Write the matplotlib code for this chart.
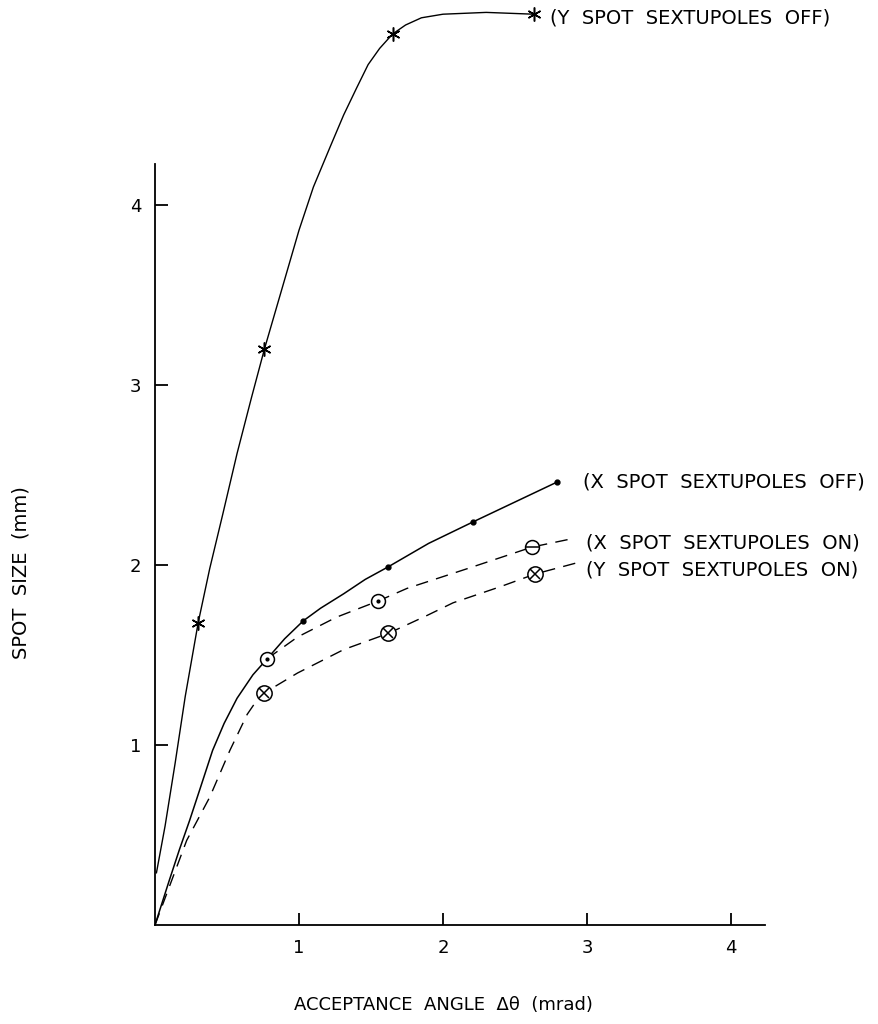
import matplotlib
matplotlib.use('Agg')
import matplotlib.pyplot as plt

# courbes (mrad, mm)
y_off_x = [0.01, 0.07, 0.14, 0.21, 0.30, 0.38, 0.47, 0.57, 0.67, 0.76, 0.88, 1.00, 1.10, 1.22, 1.31, 1.40, 1.48, 1.56, 1.65, 1.74, 1.85, 2.00, 2.30, 2.63]
y_off_y = [0.29, 0.55, 0.90, 1.27, 1.68, 1.98, 2.28, 2.62, 2.93, 3.20, 3.53, 3.86, 4.10, 4.33, 4.50, 4.65, 4.78, 4.87, 4.95, 5.00, 5.04, 5.06, 5.07, 5.06]

x_off_x = [0.0, 0.10, 0.17, 0.24, 0.31, 0.40, 0.48, 0.57, 0.68, 0.78, 0.90, 1.03, 1.15, 1.31, 1.46, 1.62, 1.90, 2.21, 2.50, 2.79]
x_off_y = [0.0, 0.25, 0.42, 0.58, 0.75, 0.97, 1.12, 1.26, 1.39, 1.48, 1.59, 1.69, 1.76, 1.84, 1.92, 1.99, 2.12, 2.24, 2.35, 2.46]

x_on_x = [0.78, 0.99, 1.26, 1.55, 1.75, 2.17, 2.62, 2.92]
x_on_y = [1.48, 1.60, 1.71, 1.80, 1.87, 1.98, 2.10, 2.15]

y_on_x = [0.0, 0.22, 0.38, 0.52, 0.64, 0.70, 0.76, 0.99, 1.31, 1.62, 1.89, 2.07, 2.40, 2.64, 2.92]
y_on_y = [0.0, 0.47, 0.71, 0.97, 1.17, 1.24, 1.29, 1.40, 1.53, 1.62, 1.72, 1.79, 1.88, 1.95, 2.01]

# points marques
y_off_pts_x = [0.30, 0.76, 1.65, 2.63]
y_off_pts_y = [1.68, 3.20, 4.95, 5.06]
x_off_pts_x = [1.03, 1.62, 2.21, 2.79]
x_off_pts_y = [1.69, 1.99, 2.24, 2.46]
x_on_pts_x = [0.78, 1.55]
x_on_pts_y = [1.48, 1.80]
x_on_last = (2.62, 2.10)
y_on_pts_x = [0.76, 1.62, 2.64]
y_on_pts_y = [1.29, 1.62, 1.95]

ticks = [1, 2, 3, 4]

fig = plt.figure(figsize=(8.79, 10.24), dpi=100)
ax = fig.add_axes([155/879, 99/1024, 610/879, 918/1024])
ax.set_xlim(0, 4.236)
ax.set_ylim(0, 5.1)

k = 'black'
ax.plot(y_off_x, y_off_y, color=k, lw=1.0)
ax.plot(x_off_x, x_off_y, color=k, lw=1.1)
ax.plot(x_on_x, x_on_y, color=k, lw=1.0, dashes=(9, 6))
ax.plot(y_on_x, y_on_y, color=k, lw=1.0, dashes=(9, 6))

ax.plot(y_off_pts_x, y_off_pts_y, ls='none', marker=(6, 2, 0), ms=10, mec=k, mew=1.1)
ax.plot(x_off_pts_x, x_off_pts_y, ls='none', marker='o', ms=3.5, color=k)
ax.plot(x_on_pts_x, x_on_pts_y, ls='none', marker='o', ms=10, mfc='white', mec=k, mew=1.1)
ax.plot(x_on_pts_x, x_on_pts_y, ls='none', marker='o', ms=2, color=k)
ax.plot([x_on_last[0]], [x_on_last[1]], ls='none', marker='o', ms=10, mfc='white', mec=k, mew=1.1)
ax.plot([x_on_last[0]], [x_on_last[1]], ls='none', marker='_', ms=10, mec=k, mew=1.1)
ax.plot(y_on_pts_x, y_on_pts_y, ls='none', marker='o', ms=11, mfc='white', mec=k, mew=1.1)
ax.plot(y_on_pts_x, y_on_pts_y, ls='none', marker='x', ms=7, mec=k, mew=1.1)

fs = 14
ax.text(2.74, 5.04, '(Y  SPOT  SEXTUPOLES  OFF)', fontsize=fs, va='center')
ax.text(2.97, 2.46, '(X  SPOT  SEXTUPOLES  OFF)', fontsize=fs, va='center')
ax.text(2.99, 2.12, '(X  SPOT  SEXTUPOLES  ON)', fontsize=fs, va='center')
ax.text(2.99, 1.97, '(Y  SPOT  SEXTUPOLES  ON)', fontsize=fs, va='center')

for s in ['top', 'right']:
    ax.spines[s].set_visible(False)
ax.spines['left'].set_bounds(0, 4.23)
ax.spines['left'].set_linewidth(1.3)
ax.spines['bottom'].set_linewidth(1.3)
ax.set_xticks(ticks)
ax.set_yticks(ticks)
ax.tick_params(direction='in', length=9, width=1.3, labelsize=13, pad=10)

fig.text(21/879, 1 - 573/1024, 'SPOT  SIZE  (mm)', rotation=90, fontsize=fs, ha='center', va='center')
fig.text(443/879, 1 - 1005/1024, 'ACCEPTANCE  ANGLE  \u0394\u03b8  (mrad)', fontsize=13, ha='center', va='center')

plt.savefig('out.png', dpi=100)
